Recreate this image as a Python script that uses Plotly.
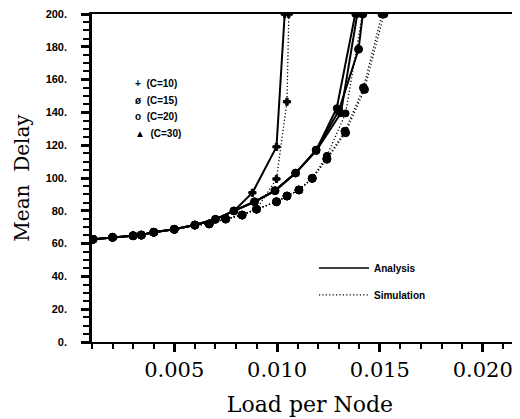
import plotly.graph_objects as go

# ---- data ----
low_x = [0.00105, 0.002, 0.003, 0.0034, 0.004, 0.005, 0.006]
low_y = [62.6, 63.8, 64.8, 65.2, 66.9, 68.7, 71.3]

an10_x = low_x + [0.007, 0.0079, 0.0088, 0.00997, 0.01037]
an10_y = low_y + [74.8, 79.9, 91.0, 119.0, 200.0]
sim10_x = low_x + [0.0067, 0.0075, 0.0083, 0.0090, 0.00997, 0.01048, 0.01057]
sim10_y = low_y + [72.0, 75.0, 77.4, 81.0, 99.4, 146.5, 200.0]

an15_x = low_x + [0.007, 0.0079, 0.0089, 0.0099, 0.0109, 0.0119, 0.0129, 0.0138]
an15_y = low_y + [74.8, 79.9, 85.5, 92.3, 103.0, 117.0, 142.5, 200.0]
an20_x = low_x + [0.007, 0.0079, 0.0089, 0.0099, 0.0109, 0.0119, 0.0130, 0.01396, 0.01417]
an20_y = low_y + [74.8, 79.9, 85.5, 92.3, 103.0, 117.0, 141.0, 178.5, 200.0]
an30_x = low_x + [0.007, 0.0079, 0.0089, 0.0099, 0.0109, 0.0119, 0.0131, 0.0139]
an30_y = low_y + [74.8, 79.9, 85.5, 92.3, 103.0, 116.5, 139.5, 200.0]

sim15_x = low_x + [0.0067, 0.0075, 0.0083, 0.0090, 0.00997, 0.01048, 0.01106, 0.01171, 0.01242, 0.01333, 0.01425, 0.0152]
sim15_y = low_y + [72.0, 75.0, 77.4, 81.0, 85.5, 89.0, 92.7, 99.8, 111.4, 127.6, 154.0, 200.0]
sim20_x = low_x + [0.0067, 0.0075, 0.0083, 0.0090, 0.00997, 0.01048, 0.01106, 0.01171, 0.01242, 0.01333, 0.01415]
sim20_y = low_y + [72.0, 75.0, 77.4, 81.0, 85.5, 89.0, 92.7, 99.8, 113.5, 139.4, 200.0]
sim30_x = low_x + [0.0067, 0.0075, 0.0083, 0.0090, 0.00997, 0.01048, 0.01106, 0.01171, 0.01242, 0.0133, 0.0142, 0.0151]
sim30_y = low_y + [72.0, 75.0, 77.4, 81.0, 85.5, 89.0, 92.7, 99.8, 112.0, 128.5, 155.0, 200.0]

y_ticks = [0, 20, 40, 60, 80, 100, 120, 140, 160, 180, 200]
y_tick_text = ["0.", "20.", "40.", "60.", "80.", "100.", "120.", "140.", "160.", "180.", "200."]
x_ticks = [0.005, 0.010, 0.015, 0.020]
x_tick_text = ["0.005", "0.010", "0.015", "0.020"]

c_labels = ["+  (C=10)", "ø  (C=15)", "o  (C=20)", "▲  (C=30)"]
line_labels = ["Analysis", "Simulation"]

DOT = "1.2px,2.2px"
PLOT_W = 436  # plot-area width in pixels

# ---- figure ----
fig = go.Figure()

series = [
    (an10_x, an10_y, "solid", "cross", 6),
    (sim10_x, sim10_y, DOT, "cross", 6),
    (an15_x, an15_y, "solid", "circle", 7),
    (an20_x, an20_y, "solid", "circle", 8),
    (an30_x, an30_y, "solid", "circle", 7),
    (sim15_x, sim15_y, DOT, "circle", 8),
    (sim20_x, sim20_y, DOT, "circle", 7),
    (sim30_x, sim30_y, DOT, "circle", 8),
]
for xs, ys, dash, sym, sz in series:
    fig.add_trace(go.Scatter(
        x=xs, y=ys, mode="lines+markers",
        line=dict(color="black", width=2 if dash == "solid" else 1.3, dash=dash),
        marker=dict(symbol=sym, size=sz, color="black",
                    line=dict(color="black", width=1)),
        showlegend=False, hoverinfo="skip"))

# legend entries for line styles
for name, dash, w, grp in [(line_labels[0], "solid", 1.5, "a"), (line_labels[1], DOT, 1.2, "s")]:
    fig.add_trace(go.Scatter(
        x=[None], y=[None], mode="lines", name=name, legendgroup=grp,
        line=dict(color="black", width=w, dash=dash), showlegend=True))

fig.update_layout(
    width=520, height=419,
    margin=dict(l=84, r=0, t=6, b=85, autoexpand=False),
    paper_bgcolor="white", plot_bgcolor="white",
    showlegend=True,
    legend=dict(x=(314 - 92) / PLOT_W, y=0.27, xanchor="left", yanchor="top",
                bgcolor="rgba(0,0,0,0)", tracegroupgap=8,
                font=dict(family="Liberation Sans", size=10, color="black", weight="bold"),
                itemwidth=50),
    xaxis=dict(range=[0.001, 0.0222], tickvals=x_ticks, ticktext=x_tick_text,
               automargin=False, ticklabeloverflow="allow",
               showgrid=False, zeroline=False, showline=True, linecolor="black",
               linewidth=2, mirror=True, ticks="outside", ticklen=8, tickwidth=3,
               tickcolor="black",
               tickfont=dict(family="DejaVu Serif", size=21, color="black"),
               minor=dict(dtick=0.001, tick0=0.001, ticks="outside", ticklen=5,
                          tickwidth=1.5, tickcolor="black", showgrid=False),
               title=dict(text="Load per Node",
                          font=dict(family="DejaVu Serif", size=22, color="black"),
                          standoff=15)),
    yaxis=dict(range=[0, 200], tickvals=y_ticks, ticktext=y_tick_text,
               automargin=False, ticklabeloverflow="allow",
               showgrid=False, zeroline=False, showline=True, linecolor="black",
               linewidth=2.5, mirror=True, ticks="outside", ticklen=8, tickwidth=3,
               tickcolor="black", ticklabelstandoff=12,
               tickfont=dict(family="Liberation Sans", size=11, color="black", weight="bold"),
               minor=dict(dtick=5, ticks="outside", ticklen=6, tickwidth=1.5,
                          tickcolor="black", showgrid=False),
               title=dict(text="Mean  Delay",
                          font=dict(family="DejaVu Serif", size=20, color="black"),
                          standoff=11)),
)

for i, lab in enumerate(c_labels):
    fig.add_annotation(xref="paper", yref="paper", x=(133 - 92) / PLOT_W,
                       y=(342 - (84 + 16.5 * i)) / 328, xanchor="left", yanchor="middle",
                       text=lab, showarrow=False,
                       font=dict(family="Liberation Sans", size=10, color="black", weight="bold"))

fig.write_html("out.html")
